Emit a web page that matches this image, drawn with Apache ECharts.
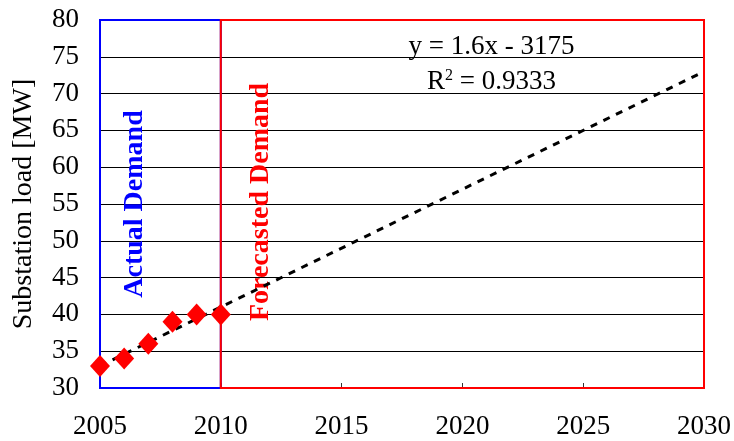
<!DOCTYPE html>
<html>
<head>
<meta charset="utf-8">
<script src="https://cdn.jsdelivr.net/npm/echarts@6/dist/echarts.min.js"></script>
<style>
  html, body { margin: 0; padding: 0; background: #fff; }
  #chart { width: 734px; height: 441px; }
</style>
</head>
<body>
<div id="chart"></div>
<script>
// 实测负荷
var years = [2005, 2006, 2007, 2008, 2009, 2010];
var loads = [33, 34, 36, 39, 40, 40];
// 趋势线 y = 1.6x - 3175 端点
var trendYears = [2005, 2030];
var trendLoads = [33, 73];
// 区域
var actualRange = [2004.8, 2010];
var forecastRange = [2010, 2030.25];

var font = '"Liberation Serif", "Times New Roman", serif';

var chart = echarts.init(document.getElementById('chart'));

var pts = years.map(function(y, i) { return [y, loads[i]]; });
var trend = trendYears.map(function(y, i) { return [y, trendLoads[i]]; });

var option = {
    animation: false,
    grid: { left: 100, right: 30, top: 20, bottom: 53, containLabel: false, outerBoundsMode: 'none',
            show: true, borderColor: '#777', borderWidth: 1 },
    xAxis: {
        type: 'value',
        min: 2005, max: 2030, interval: 5,
        axisLine: { show: false },
        axisTick: { show: true, inside: true, length: 5, lineStyle: { color: '#333' } },
        splitLine: { show: false },
        axisLabel: { color: '#000', fontSize: 27, fontFamily: font, margin: 25,
                     formatter: function(v) { return String(v); } }
    },
    yAxis: {
        type: 'value',
        min: 30, max: 80, interval: 5,
        name: 'Substation load [MW]',
        nameLocation: 'middle',
        nameGap: 62,
        nameTextStyle: { color: '#000', fontSize: 28, fontFamily: font },
        axisLine: { show: true, lineStyle: { color: '#555', width: 2 } },
        axisTick: { show: false },
        splitLine: { show: true, lineStyle: { color: '#000', width: 1 } },
        axisLabel: { color: '#000', fontSize: 27, fontFamily: font, margin: 21 }
    },
    series: [{
        type: 'line',
        data: trend,
        symbol: 'none',
        clip: false,
        lineStyle: { color: '#000', width: 3, type: [7, 7] },
        markArea: {
            silent: true,
            data: [
                [{ xAxis: actualRange[0], yAxis: 30, itemStyle: { color: 'rgba(0,0,0,0)', borderColor: '#0000ff', borderWidth: 2 } },
                 { xAxis: actualRange[1], yAxis: 80 }],
                [{ xAxis: forecastRange[0], yAxis: 30, itemStyle: { color: 'rgba(0,0,0,0)', borderColor: '#ff0000', borderWidth: 2 } },
                 { xAxis: forecastRange[1], yAxis: 80 }]
            ]
        },
        z: 3
    }, {
        type: 'scatter',
        data: pts,
        symbol: 'diamond',
        symbolSize: [20, 22],
        itemStyle: { color: '#ff0000', opacity: 1 },
        clip: false,
        z: 4
    }]
};
chart.setOption(option);

// 注释文字
var pA = chart.convertToPixel({ gridIndex: 0 }, [2006.45, 55]);
var pF = chart.convertToPixel({ gridIndex: 0 }, [2011.65, 55]);
var pE = chart.convertToPixel({ gridIndex: 0 }, [2021.2, 76.3]);
var pR = chart.convertToPixel({ gridIndex: 0 }, [2021.2, 71.6]);

chart.setOption({
    graphic: [
        { type: 'text', x: pA[0], y: pA[1], rotation: Math.PI / 2,
          style: { text: 'Actual Demand', fill: '#0000ff', font: 'bold 28px ' + font, align: 'center', verticalAlign: 'middle' } },
        { type: 'text', x: pF[0], y: pF[1] - 2, rotation: Math.PI / 2,
          style: { text: 'Forecasted Demand', fill: '#ff0000', font: 'bold 28px ' + font, align: 'center', verticalAlign: 'middle' } },
        { type: 'text', x: pE[0], y: pE[1],
          style: { text: 'y = 1.6x - 3175', fill: '#000', font: '27px ' + font, align: 'center', verticalAlign: 'middle' } },
        { type: 'text', x: pR[0], y: pR[1],
          style: { text: '{a|R}{s|2}{a| = 0.9333}', align: 'center', verticalAlign: 'middle',
                   rich: { a: { fill: '#000', font: '27px ' + font, verticalAlign: 'bottom' },
                           s: { fill: '#000', font: '16px ' + font, verticalAlign: 'top', padding: [0, 0, 12, 0] } } } }
    ]
});
</script>
</body>
</html>
